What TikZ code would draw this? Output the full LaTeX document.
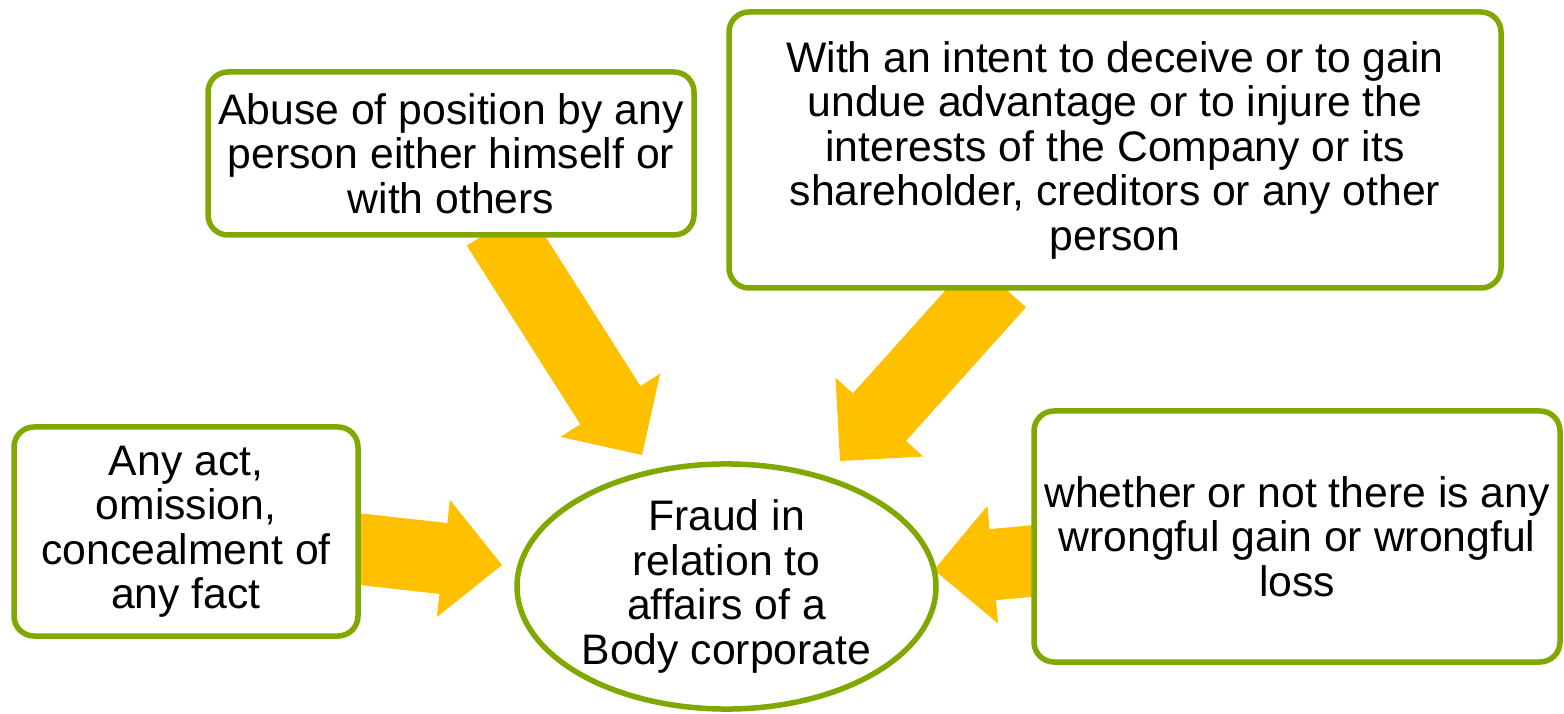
\documentclass[tikz,border=0pt]{standalone}
\usepackage{fontspec}
\setmainfont{Liberation Sans}
\usetikzlibrary{arrows.meta,shapes.geometric}
\definecolor{leafgreen}{RGB}{128,168,0}
\definecolor{amber}{RGB}{255,192,0}
\pgfdeclarelayer{background}
\pgfsetlayers{background,main}
\tikzset{
  bodytext/.style={font=\fontsize{42.7pt}{44.5pt}\selectfont, align=center, text=black},
  factbox/.style={bodytext, draw=leafgreen, line width=5.5pt, fill=white,
    rounded corners=20pt, inner sep=0pt},
  core/.style={bodytext, ellipse, draw=leafgreen, line width=5.5pt, fill=white, inner sep=0pt},
  % wide block arrow: the shaft is redrawn a little into the head so no seam shows
  bigarrow/.style={draw=amber, line width=71pt, line cap=butt,
    -{Triangle[width=118pt,length=59pt,line width=0pt 0,fill=amber]},
    postaction={draw=amber, line width=71pt, line cap=butt, -, shorten >=50pt}}
}
\begin{document}
\begin{tikzpicture}[x=1pt,y=1pt]
\useasboundingbox (0,0) rectangle (1564,713);

% surrounding conditions
\node[factbox, minimum width=486pt, minimum height=163pt] (abuse) at (451,559.5)
  {Abuse of position by any\\person either himself or\\with others};
\node[factbox, minimum width=772pt, minimum height=276pt] (intent) at (1115,563)
  {With an intent to deceive or to gain\\undue advantage or to injure the\\interests of the Company or its\\shareholder, creditors or any other\\person};
\node[factbox, minimum width=344pt, minimum height=209pt] (act) at (186,181.5)
  {Any act,\\omission,\\concealment of\\any fact};
\node[factbox, minimum width=526pt, minimum height=251pt] (gain) at (1297,176.5)
  {whether or not there is any\\wrongful gain or wrongful\\loss};

% central notion
\node[core, minimum width=419pt, minimum height=243pt] (fraud) at (726.5,126.5)
  {Fraud in\\relation to\\affairs of a\\Body corporate};

% arrow tips, just short of the ellipse
\coordinate (tipAbuse)  at (642,258);
\coordinate (tipIntent) at (840,252);
\coordinate (tipAct)    at (502,148);
\coordinate (tipGain)   at (934,143);

\begin{pgfonlayer}{background}
  \draw[bigarrow] ([shift={(46,11)}]abuse.south) -- (tipAbuse);
  \draw[bigarrow] ([shift={(-115.6,7.2)}]intent.south) -- (tipIntent);
  \draw[bigarrow] ([shift={(-8,-16.9)}]act.east) -- (tipAct);
  \draw[bigarrow] ([shift={(8,-23.9)}]gain.west) -- (tipGain);
\end{pgfonlayer}
\end{tikzpicture}
\end{document}
